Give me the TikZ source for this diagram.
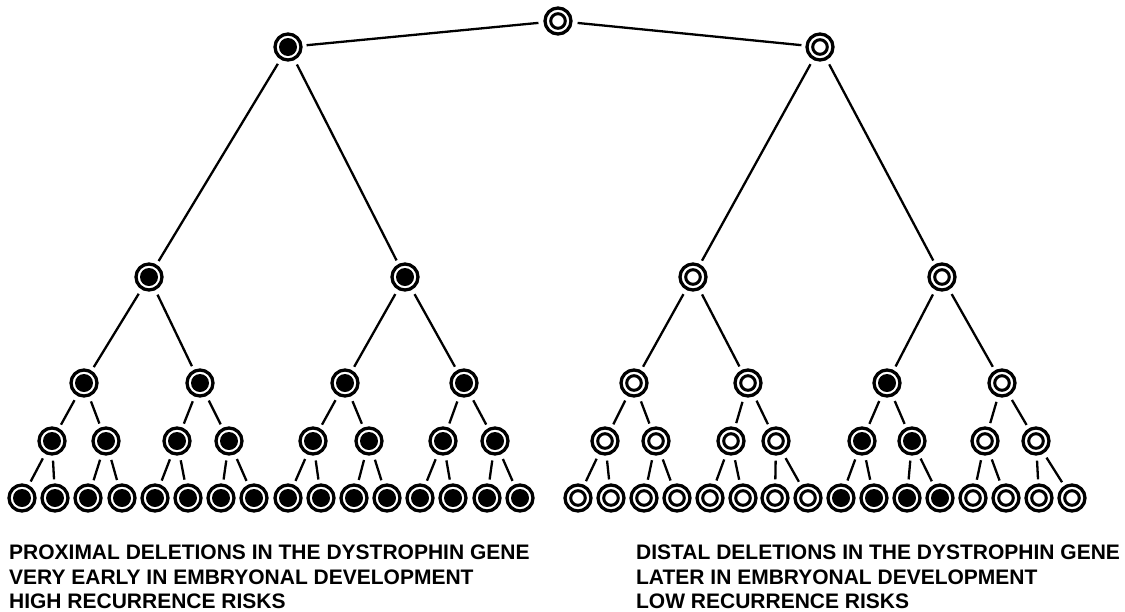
\documentclass[tikz,border=0pt]{standalone}
\usepackage{fontspec}
\setmainfont{Liberation Sans}
\usepackage{tikz}
\usetikzlibrary{calc,backgrounds}
\tikzstyle{lineage}=[
  x=1pt,y=-1pt,line width=2.3pt
]
\tikzstyle{cellnode}=[
  draw,circle,line width=3.3pt,inner sep=0pt,minimum size=26pt,fill=white
]
\tikzstyle{fullcell}=[
  cellnode,path picture={\fill[black] (path picture bounding box.center) circle (9pt);}
]
\tikzstyle{opencell}=[
  cellnode,path picture={\draw[black,line width=3pt] (path picture bounding box.center) circle (7.3pt);}
]
\tikzstyle{branch}=[
  line width=2.3pt,shorten <=5pt,shorten >=4pt
]
\tikzstyle{caption}=[
  anchor=north west,inner sep=0pt,align=left,
  font=\fontsize{21}{24.5}\selectfont\bfseries
]

\begin{document}
\begin{tikzpicture}[lineage]
      \useasboundingbox (0,0) rectangle (1125,611);
      \def\lvl{498}
        % zygote and first divisions
        \node (top) at (558, 21) [opencell] {};
        \node (p) at (288, 47) [fullcell] {};
        \node (d) at (820, 47) [opencell] {};
        \node (p0) at (149, 277) [fullcell] {};
        \node (p1) at (405, 277) [fullcell] {};
        \node (d0) at (693, 277) [opencell] {};
        \node (d1) at (942, 277) [opencell] {};
        \node (p00) at (84, 383) [fullcell] {};
        \node (p01) at (200, 383) [fullcell] {};
        \node (p10) at (345, 383) [fullcell] {};
        \node (p11) at (464, 383) [fullcell] {};
        \node (d00) at (634, 383) [opencell] {};
        \node (d01) at (748, 383) [opencell] {};
        \node (d10) at (887, 383) [fullcell] {};
        \node (d11) at (1002, 383) [opencell] {};
        \node (p000) at (52, 441) [fullcell] {};
        \node (p001) at (106, 441) [fullcell] {};
        \node (p010) at (177, 441) [fullcell] {};
        \node (p011) at (229, 441) [fullcell] {};
        \node (p100) at (313, 441) [fullcell] {};
        \node (p101) at (369, 441) [fullcell] {};
        \node (p110) at (443, 441) [fullcell] {};
        \node (p111) at (495, 441) [fullcell] {};
        \node (d000) at (605, 441) [opencell] {};
        \node (d001) at (656, 441) [opencell] {};
        \node (d010) at (731, 441) [opencell] {};
        \node (d011) at (776, 441) [opencell] {};
        \node (d100) at (862, 441) [fullcell] {};
        \node (d101) at (912, 441) [fullcell] {};
        \node (d110) at (985, 441) [opencell] {};
        \node (d111) at (1036, 441) [opencell] {};

        % last generation
        \foreach \n/\a/\b/\s in {p000/22/55/fullcell, p001/88/122/fullcell,
            p010/155/188/fullcell, p011/221/254/fullcell,
            p100/288/321/fullcell, p101/354/387/fullcell,
            p110/420/453/fullcell, p111/487/520/fullcell,
            d000/578/611/opencell, d001/644/677/opencell,
            d010/710/743/opencell, d011/775/808/opencell,
            d100/841/874/fullcell, d101/907/940/fullcell,
            d110/973/1006/opencell, d111/1039/1072/opencell} {
          \node (\n0) at (\a, \lvl) [\s] {};
          \node (\n1) at (\b, \lvl) [\s] {};
          \draw [branch] (\n) -- (\n0);
          \draw [branch] (\n) -- (\n1);
        }

        \begin{scope}[on background layer]
          \foreach \u/\v in {top/p, top/d, p/p0, p/p1, d/d0, d/d1,
              p0/p00, p0/p01, p1/p10, p1/p11, d0/d00, d0/d01, d1/d10, d1/d11,
              p00/p000, p00/p001, p01/p010, p01/p011,
              p10/p100, p10/p101, p11/p110, p11/p111,
              d00/d000, d00/d001, d01/d010, d01/d011,
              d10/d100, d10/d101, d11/d110, d11/d111}
            \draw [branch] (\u) -- (\v);
        \end{scope}

        \node (ptext) at (8, 544) [caption] {PROXIMAL DELETIONS IN THE DYSTROPHIN GENE\\
          VERY EARLY IN EMBRYONAL DEVELOPMENT\\HIGH RECURRENCE RISKS};
        \node (dtext) at (635, 544) [caption] {DISTAL DELETIONS IN THE DYSTROPHIN GENE\\
          LATER IN EMBRYONAL DEVELOPMENT\\LOW RECURRENCE RISKS};
    \end{tikzpicture}
\end{document}
